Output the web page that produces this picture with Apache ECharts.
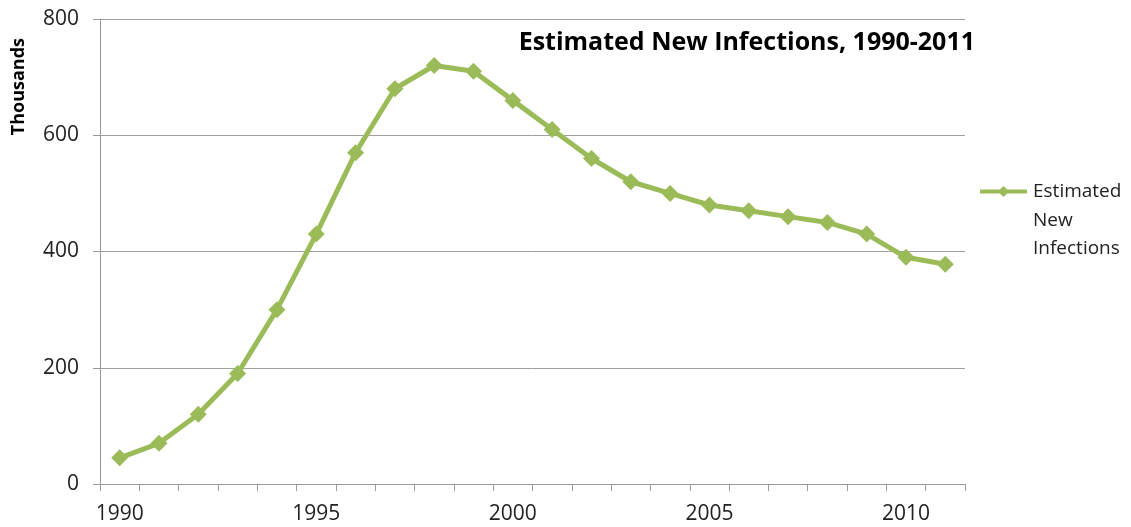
<!DOCTYPE html>
<html>
<head>
<meta charset="utf-8">
<script src="https://cdn.jsdelivr.net/npm/echarts@6/dist/echarts.min.js"></script>
<style>
html,body{margin:0;padding:0;background:#fff;}
#chart{width:1131px;height:527px;}
</style>
</head>
<body>
<div id="chart"></div>
<script>
var years = ['1990','1991','1992','1993','1994','1995','1996','1997','1998','1999','2000','2001','2002','2003','2004','2005','2006','2007','2008','2009','2010','2011'];
var newInfections = [45, 70, 120, 190, 300, 430, 570, 680, 720, 710, 660, 610, 560, 520, 500, 480, 470, 460, 450, 430, 390, 378];
var yTicks = {min: 0, max: 800, interval: 200};

var chart = echarts.init(document.getElementById('chart'));
var green = '#9bbb59';
var fontFam = '"Open Sans", "DejaVu Sans", sans-serif';
chart.setOption({
  animation: false,
  backgroundColor: '#fff',
  title: {
    text: 'Estimated New Infections, 1990-2011',
    right: 156,
    top: 30,
    padding: 0,
    textStyle: {fontFamily: fontFam, fontWeight: 'bold', fontSize: 25, color: '#000'}
  },
  legend: {
    left: 978,
    top: 182,
    padding: 0,
    itemWidth: 47,
    itemHeight: 14,
    itemGap: 0,
    lineStyle: {width: 4},
    data: [{name: 'Estimated New Infections'}],
    formatter: function () { return 'Estimated'; },
    textStyle: {fontFamily: fontFam, fontSize: 19, color: '#222', padding: [0, 0, 0, 1]}
  },
  graphic: [{
    type: 'text',
    left: 1033,
    top: 207,
    style: {text: 'New\nInfections', fontFamily: fontFam, fontSize: 19, fill: '#222', lineHeight: 27.5}
  }],
  grid: {left: 100, right: 166, top: 19, bottom: 43},
  xAxis: {
    type: 'category',
    data: years,
    boundaryGap: true,
    axisLine: {show: true, lineStyle: {color: '#9a9a9a', width: 1}},
    axisTick: {show: true, interval: 0, length: 7, lineStyle: {color: '#9a9a9a'}},
    axisLabel: {interval: 4, margin: 20, fontFamily: fontFam, fontSize: 21, color: '#222'},
    splitLine: {show: false}
  },
  yAxis: {
    type: 'value',
    min: yTicks.min,
    max: yTicks.max,
    interval: yTicks.interval,
    name: 'Thousands',
    nameLocation: 'end',
    nameRotate: 90,
    nameGap: 0,
    nameTextStyle: {fontFamily: fontFam, fontWeight: 'bold', fontSize: 18, color: '#000', align: 'right', verticalAlign: 'bottom', padding: [0, 19, 72, 0]},
    axisLine: {show: true, lineStyle: {color: '#9a9a9a', width: 1}},
    axisTick: {show: true, length: 7, lineStyle: {color: '#9a9a9a'}},
    axisLabel: {margin: 21, fontFamily: fontFam, fontSize: 21, color: '#222'},
    splitLine: {show: true, lineStyle: {color: '#a0a0a0', width: 1}}
  },
  series: [{
    name: 'Estimated New Infections',
    type: 'line',
    data: newInfections,
    symbol: 'diamond',
    symbolSize: 17,
    lineStyle: {color: green, width: 5},
    itemStyle: {color: green},
    emphasis: {disabled: true}
  }]
});
</script>
</body>
</html>
